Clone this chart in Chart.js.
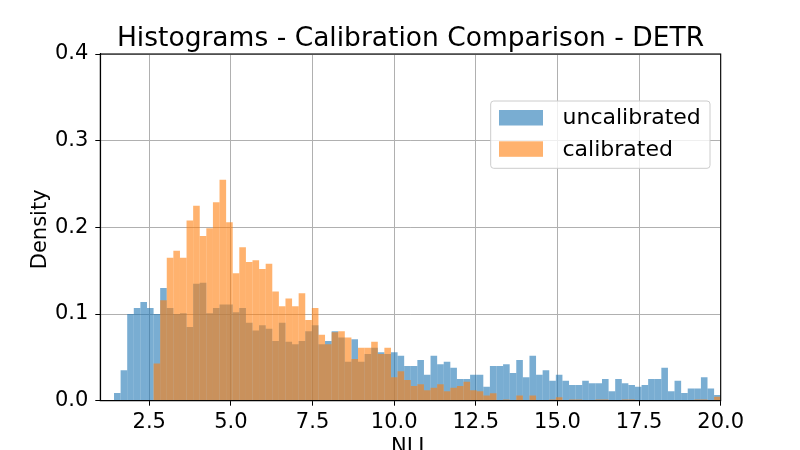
<!DOCTYPE html>
<html>
<head>
<meta charset="utf-8">
<script src="https://cdn.jsdelivr.net/npm/chart.js@4"></script>
<style>
  html, body { margin: 0; padding: 0; background: #fff; }
  canvas { display: block; }
</style>
</head>
<body>
<canvas id="hist" width="800" height="450"></canvas>
<script>
// bins: 92 equal bins from binLo to binHi
const binLo = 1.42;
const binHi = 20.0;
const nBins = 92;

const uncalibrated = [
  0.009, 0.035, 0.100, 0.107, 0.114, 0.107, 0.100, 0.130, 0.107, 0.100,
  0.101, 0.085, 0.135, 0.136, 0.101, 0.107, 0.111, 0.111, 0.102, 0.107,
  0.090, 0.081, 0.087, 0.083, 0.069, 0.090, 0.068, 0.065, 0.069, 0.080,
  0.087, 0.065, 0.069, 0.080, 0.073, 0.045, 0.071, 0.045, 0.054, 0.061,
  0.056, 0.054, 0.056, 0.052, 0.040, 0.040, 0.047, 0.030, 0.052, 0.042,
  0.045, 0.038, 0.025, 0.025, 0.030, 0.030, 0.016, 0.040, 0.040, 0.042,
  0.032, 0.047, 0.027, 0.052, 0.030, 0.035, 0.023, 0.030, 0.023, 0.018,
  0.018, 0.023, 0.020, 0.020, 0.025, 0.011, 0.025, 0.020, 0.018, 0.016,
  0.018, 0.025, 0.025, 0.038, 0.011, 0.023, 0.009, 0.014, 0.014, 0.027,
  0.014, 0.0065
];

const calibrated = [
  0, 0, 0, 0, 0, 0, 0.043, 0.116, 0.165, 0.173,
  0.165, 0.208, 0.225, 0.190, 0.199, 0.229, 0.255, 0.206, 0.147, 0.177,
  0.160, 0.162, 0.152, 0.158, 0.126, 0.109, 0.118, 0.109, 0.124, 0.093,
  0.107, 0.076, 0.065, 0.079, 0.080, 0.073, 0.048, 0.061, 0.061, 0.068,
  0.054, 0.061, 0.027, 0.034, 0.024, 0.017, 0.019, 0.012, 0.015, 0.019,
  0.011, 0.015, 0.017, 0.022, 0.012, 0.011, 0.006, 0.0085, 0, 0.0015,
  0, 0.006, 0, 0.006, 0, 0, 0.0015, 0.004, 0, 0.0015,
  0.0015, 0, 0, 0.0015, 0.0015, 0, 0, 0.0015, 0.0015, 0,
  0, 0, 0, 0, 0, 0, 0, 0, 0.0015, 0.0015,
  0, 0.0046
];

const xTicks = [2.5, 5.0, 7.5, 10.0, 12.5, 15.0, 17.5, 20.0];
const yTicks = [0.0, 0.1, 0.2, 0.3, 0.4];

const binW = (binHi - binLo) / nBins;
const centers = uncalibrated.map((_, i) => binLo + binW * (i + 0.5));
const toPoints = (vals) => vals.map((v, i) => ({ x: centers[i], y: v }));

const BLUE = "rgba(31, 119, 180, 0.6)";
const ORANGE = "rgba(255, 127, 14, 0.6)";
const FONT = "'DejaVu Sans', sans-serif";

// title, axis titles, top/right spines and legend box
const decor = {
  id: "decor",
  afterDraw(chart) {
    const ctx = chart.ctx;
    const a = chart.chartArea;
    ctx.save();
    ctx.strokeStyle = "#000";
    ctx.lineWidth = 1.1;
    ctx.strokeRect(a.left, a.top, a.right - a.left, a.bottom - a.top);

    ctx.fillStyle = "#000";
    ctx.textAlign = "center";
    ctx.textBaseline = "alphabetic";
    ctx.font = "26.5px " + FONT;
    ctx.fillText("Histograms - Calibration Comparison - DETR", (a.left + a.right) / 2, 46);

    ctx.font = "21px " + FONT;
    ctx.fillText("NLL", (a.left + a.right) / 2, 453);
    ctx.save();
    ctx.translate(45.5, (a.top + a.bottom) / 2 + 2);
    ctx.rotate(-Math.PI / 2);
    ctx.fillText("Density", 0, 0);
    ctx.restore();

    // legend
    const lx = 490.7, ly = 101, lw = 219.3, lh = 67.3;
    ctx.beginPath();
    ctx.roundRect(lx, ly, lw, lh, 3);
    ctx.fillStyle = "rgba(255,255,255,0.8)";
    ctx.fill();
    ctx.strokeStyle = "#cccccc";
    ctx.lineWidth = 1;
    ctx.stroke();

    const items = [["uncalibrated", BLUE, 110], ["calibrated", ORANGE, 141.3]];
    ctx.font = "22px " + FONT;
    ctx.textAlign = "left";
    ctx.textBaseline = "middle";
    for (const [label, col, y] of items) {
      ctx.fillStyle = col;
      ctx.fillRect(499, y, 44, 15.5);
      ctx.fillStyle = "#000";
      ctx.fillText(label, 562.5, y + 8.5);
    }
    ctx.restore();
  },
};

const hist = new Chart(document.getElementById("hist").getContext("2d"), {
  type: "bar",
  data: {
    datasets: [
      {
        label: "calibrated",
        data: toPoints(calibrated),
        backgroundColor: ORANGE,
      },
      {
        label: "uncalibrated",
        data: toPoints(uncalibrated),
        backgroundColor: BLUE,
      },
    ],
  },
  options: {
    responsive: false,
    animation: false,
    devicePixelRatio: 1,
    layout: { padding: { left: 0, right: 79.3, top: 54, bottom: 0 } },
    datasets: {
      bar: {
        grouped: false,
        barPercentage: 1,
        categoryPercentage: 1,
        borderWidth: 0,
        inflateAmount: 0,
      },
    },
    plugins: {
      legend: { display: false },
      title: { display: false },
      tooltip: { enabled: false },
    },
    scales: {
      x: {
        type: "linear",
        min: 1.0,
        max: 20.0,
        offset: false,
        z: 1,
        afterBuildTicks: (s) => { s.ticks = xTicks.map((v) => ({ value: v })); },
        afterFit: (s) => { s.height = 49.3; },
        grid: { offset: false, color: "#b0b0b0", lineWidth: 1, tickColor: "#000", tickLength: 5 },
        border: { color: "#000", width: 1.1 },
        ticks: {
          color: "#000",
          padding: 4,
          maxRotation: 0,
          font: { family: FONT, size: 21 },
          callback: (v) => Number(v).toFixed(1),
        },
      },
      y: {
        min: 0,
        max: 0.4,
        z: 1,
        afterBuildTicks: (s) => { s.ticks = yTicks.map((v) => ({ value: v })); },
        afterFit: (s) => { s.width = 100.3; },
        grid: { color: "#b0b0b0", lineWidth: 1, tickColor: "#000", tickLength: 5 },
        border: { color: "#000", width: 1.1 },
        ticks: {
          color: "#000",
          padding: 7,
          font: { family: FONT, size: 21 },
          callback: (v) => Number(v).toFixed(1),
        },
      },
    },
  },
  plugins: [decor],
});
</script>
</body>
</html>
